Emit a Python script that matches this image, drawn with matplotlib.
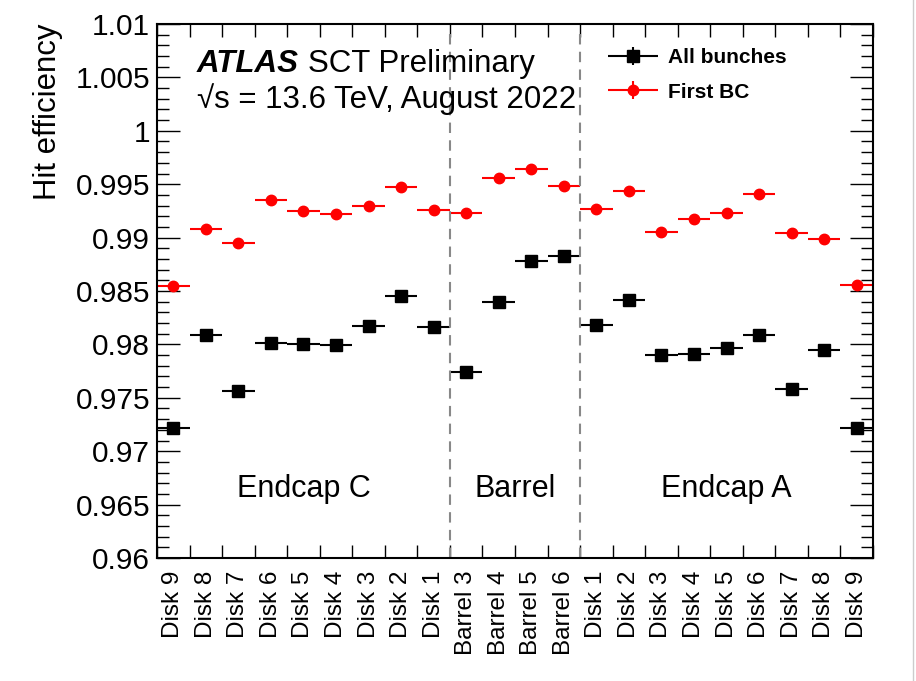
import numpy as np
import matplotlib
matplotlib.use('Agg')
import matplotlib.pyplot as plt
from matplotlib.lines import Line2D
from matplotlib.legend_handler import HandlerErrorbar

plt.rcParams['font.family'] = ['Liberation Sans', 'DejaVu Sans']

labels = ['Disk 9', 'Disk 8', 'Disk 7', 'Disk 6', 'Disk 5', 'Disk 4', 'Disk 3', 'Disk 2', 'Disk 1',
          'Barrel 3', 'Barrel 4', 'Barrel 5', 'Barrel 6',
          'Disk 1', 'Disk 2', 'Disk 3', 'Disk 4', 'Disk 5', 'Disk 6', 'Disk 7', 'Disk 8', 'Disk 9']

all_bunches = [0.9722, 0.9809, 0.9756, 0.9801, 0.9800, 0.9799, 0.9817, 0.9845, 0.9816,
               0.9774, 0.9840, 0.9878, 0.9883,
               0.9818, 0.9842, 0.9790, 0.9791, 0.9797, 0.9809, 0.9758, 0.9795, 0.9722]
first_bc = [0.9855, 0.9908, 0.9895, 0.9935, 0.9925, 0.9922, 0.9930, 0.9947, 0.9926,
            0.9923, 0.9956, 0.9964, 0.9948,
            0.9927, 0.9944, 0.9905, 0.9917, 0.9923, 0.9941, 0.9904, 0.9899, 0.9856]
# stat. errors are tiny, hidden behind the markers
err_all = [0.0001] * 22
err_first = [0.0001] * 22

regions = ['Endcap C', 'Barrel', 'Endcap A']
region_edges = [0, 9, 13, 22]

fig = plt.figure(figsize=(9.16, 6.81), dpi=100)
ax = fig.add_axes([157/916, 123/681, 716/916, 534/681])

x = np.arange(len(labels)) + 0.5
ax.errorbar(x, all_bunches, xerr=0.5, yerr=err_all, fmt='s', color='black',
            ms=9, elinewidth=1.5, capsize=0, label='All bunches')
ax.errorbar(x, first_bc, xerr=0.5, yerr=err_first, fmt='o', color='red',
            ms=7.5, elinewidth=1.5, capsize=0, label='First BC')

for e in region_edges[1:-1]:
    ax.axvline(e, color='#888888', ls=(0, (5, 3.5)), lw=1.5, ymax=0.995)

for name, a, b in zip(regions, region_edges[:-1], region_edges[1:]):
    ax.text((a + b) / 2, 0.9665, name, ha='center', va='center', fontsize=22)

ax.set_xlim(0, 22)
ax.set_ylim(0.96, 1.01)
ax.set_xticks(x)
ax.set_xticklabels(labels, rotation=90, fontsize=17.5)
ax.set_xticks(np.arange(23), minor=True)
ax.tick_params(axis='x', which='major', length=0, pad=9)
ax.tick_params(axis='x', which='minor', direction='in', length=9.4, width=1, top=True, bottom=True)

ax.set_yticks(np.arange(0.96, 1.0101, 0.005))
ax.set_yticklabels(['0.96', '0.965', '0.97', '0.975', '0.98', '0.985', '0.99', '0.995',
                    '1', '1.005', '1.01'], fontsize=21.5)
ax.set_yticks(np.arange(0.96, 1.0101, 0.001), minor=True)
ax.tick_params(axis='y', which='major', direction='in', length=16.5, width=1, left=True, right=True, pad=5)
ax.tick_params(axis='y', which='minor', direction='in', length=8.6, width=1, left=True, right=True)
for s in ax.spines.values():
    s.set_linewidth(1.5)

ax.set_ylabel('Hit efficiency', loc='top', fontsize=22.4, labelpad=9)

ax.text(0.056, 0.91, 'ATLAS', transform=ax.transAxes, fontsize=22.5,
        fontweight='bold', fontstyle='italic')
ax.text(0.211, 0.91, 'SCT Preliminary', transform=ax.transAxes, fontsize=22.5)
ax.text(0.056, 0.843, '\u221as = 13.6 TeV, August 2022', transform=ax.transAxes, fontsize=22.5)

leg = ax.legend(loc='upper left', bbox_to_anchor=(0.6285, 0.955), frameon=False,
                borderpad=0, borderaxespad=0, handlelength=2.45, handletextpad=0.5,
                labelspacing=0.75, prop={'weight': 'bold', 'size': 15},
                handler_map={type(ax.containers[0]): HandlerErrorbar(xerr_size=1.2, yerr_size=0.43)})

fig.add_artist(Line2D([913/916, 913/916], [0, 1], color='#cccccc', lw=1))

fig.savefig('out.png', dpi=100)
